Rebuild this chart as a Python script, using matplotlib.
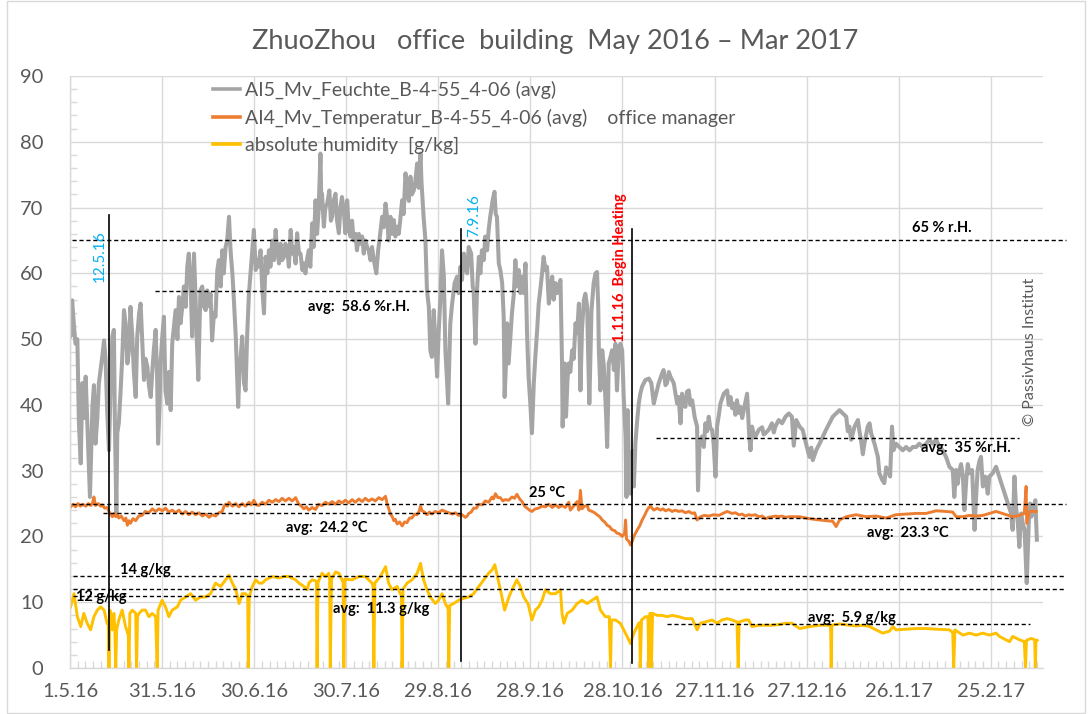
import matplotlib
matplotlib.use("Agg")
import matplotlib.pyplot as plt
from matplotlib.patches import Rectangle
from matplotlib.ticker import MultipleLocator, FixedLocator, FixedFormatter

# ---------------- data (days since 1.5.16) ----------------
tick_days = [0, 30, 60, 90, 120, 150, 180, 210, 240, 270, 300]
tick_labels = ["1.5.16", "31.5.16", "30.6.16", "30.7.16", "29.8.16", "28.9.16",
               "28.10.16", "27.11.16", "27.12.16", "26.1.17", "25.2.17"]

rh_day = [0.0, 0.2, 0.7, 1.3, 1.8, 2.4, 2.9, 3.5, 4.0, 4.5, 5.1, 5.8, 6.5, 7.3, 7.8, 8.3, 8.9, 9.4,
          10.5, 11.1, 11.6, 12.1, 12.7, 13.2, 13.8, 14.3, 14.6, 15.1, 15.4, 15.9, 16.5, 17.0, 17.6,
          18.1, 18.7, 19.2, 19.7, 20.3, 20.8, 21.4, 21.9, 22.5, 23.0, 23.5, 24.1, 24.6, 25.2, 25.7,
          26.3, 26.8, 27.3, 27.9, 28.4, 28.7, 29.2, 29.5, 30.0, 30.6, 31.1, 31.7, 32.2, 32.8, 33.3,
          33.9, 34.4, 35.0, 35.5, 36.0, 36.6, 37.1, 37.7, 38.2, 38.7, 39.3, 39.8, 40.4, 40.9, 41.3,
          41.8, 42.2, 42.5, 43.1, 43.6, 44.2, 44.7, 45.3, 45.8, 46.3, 46.9, 47.4, 48.0, 48.5, 49.1,
          49.6, 50.1, 50.7, 51.2, 51.8, 52.3, 52.9, 53.4, 54.0, 54.5, 54.8, 55.2, 55.6, 56.1, 56.7,
          57.2, 57.7, 58.3, 58.8, 59.1, 59.9, 60.5, 61.0, 61.3, 62.1, 62.6, 63.2, 63.7, 64.3, 64.8,
          65.3, 65.9, 66.4, 67.0, 67.5, 68.1, 68.6, 69.1, 69.7, 70.2, 70.8, 71.3, 71.9, 72.4, 72.9,
          73.5, 74.0, 74.6, 75.1, 75.7, 76.2, 76.7, 77.2, 77.8, 78.3, 78.9, 79.4, 80.0, 80.5, 81.0,
          81.6, 81.9, 82.1, 82.7, 83.2, 83.8, 84.5, 85.0, 85.4, 85.9, 86.5, 87.0, 87.6, 88.1, 88.6,
          89.2, 89.7, 90.3, 90.8, 91.4, 91.9, 92.4, 93.0, 93.5, 94.1, 94.6, 95.2, 95.7, 96.2, 96.8,
          97.3, 97.9, 98.4, 99.0, 99.8, 100.4, 100.8, 101.7, 102.2, 102.8, 103.3, 103.8, 104.4,
          104.9, 105.5, 106.0, 106.6, 107.1, 107.6, 108.2, 108.7, 109.3, 109.8, 110.4, 110.9, 111.4,
          112.0, 112.5, 113.1, 113.6, 114.2, 114.5, 114.9, 115.2, 115.8, 116.3, 116.9, 117.4, 117.9,
          118.5, 119.0, 119.6, 120.1, 120.7, 121.2, 121.8, 122.3, 122.8, 123.2, 123.6, 123.9, 124.5,
          125.3, 126.1, 126.6, 127.2, 127.7, 128.3, 128.8, 129.4, 129.9, 130.7, 131.2, 131.5, 132.1,
          132.6, 133.2, 133.7, 134.2, 134.8, 135.3, 135.9, 136.4, 136.9, 137.7, 138.3, 138.7, 139.1,
          139.7, 140.2, 140.8, 141.3, 141.6, 142.1, 142.4, 142.9, 143.5, 144.0, 144.6, 145.1, 145.6,
          146.2, 146.7, 147.3, 147.8, 148.4, 148.9, 149.4, 150.0, 150.5, 151.1, 151.6, 152.2, 152.7,
          153.2, 153.8, 154.3, 154.9, 155.4, 156.0, 156.5, 157.1, 157.6, 158.2, 158.7, 159.2, 159.8,
          160.3, 160.5, 160.9, 161.2, 161.6, 162.1, 162.5, 163.0, 163.6, 164.1, 164.7, 165.2, 165.8,
          166.3, 166.8, 167.4, 167.9, 168.5, 168.8, 169.2, 169.6, 169.9, 170.6, 171.2, 171.7, 172.1,
          172.3, 172.8, 173.4, 173.9, 174.2, 174.7, 175.0, 175.3, 175.5, 176.1, 176.6, 177.2, 177.7,
          178.2, 178.8, 179.3, 179.9, 180.4, 181.0, 181.3, 181.7, 182.0, 182.6, 182.9, 183.3, 183.7,
          184.2, 184.8, 185.3, 185.8, 186.4, 187.5, 188.6, 189.4, 190.2, 190.7, 191.8, 192.9, 193.4,
          194.0, 194.5, 195.1, 195.6, 196.7, 197.8, 198.3, 198.9, 199.4, 200.0, 200.5, 201.0, 201.6,
          202.1, 202.7, 203.5, 204.3, 204.6, 205.1, 205.9, 206.5, 207.0, 207.6, 208.1, 208.6, 209.2,
          209.7, 210.3, 210.8, 211.4, 211.9, 213.0, 214.1, 214.6, 215.2, 215.7, 216.2, 216.8, 217.3,
          217.9, 218.4, 219.0, 219.5, 220.6, 221.3, 221.7, 222.2, 222.8, 223.3, 224.4, 225.5, 226.0,
          226.6, 227.6, 228.7, 229.3, 229.8, 230.9, 232.0, 233.1, 234.2, 235.2, 235.8, 236.6, 237.7,
          238.7, 239.8, 240.9, 241.5, 242.0, 243.1, 244.2, 245.3, 246.3, 247.4, 248.5, 249.6, 250.7,
          251.8, 252.9, 253.4, 253.9, 254.5, 255.6, 256.7, 257.2, 257.7, 258.3, 258.8, 259.9, 260.5,
          261.0, 262.1, 263.2, 263.7, 264.6, 265.3, 265.9, 266.4, 267.2, 267.8, 268.3, 269.1, 270.2,
          271.3, 272.4, 273.5, 274.6, 275.7, 276.7, 277.8, 278.9, 280.0, 281.1, 282.2, 283.3, 284.3,
          285.4, 286.5, 287.6, 288.1, 288.7, 289.2, 289.8, 290.3, 290.9, 291.4, 292.0, 292.5, 293.0,
          293.9, 294.7, 295.2, 295.7, 296.3, 296.8, 297.4, 298.2, 299.0, 299.5, 300.6, 301.7, 306.6,
          307.1, 307.7, 308.2, 308.8, 309.3, 309.9, 310.4, 311.0, 311.7, 312.4, 312.8, 313.2, 313.7,
          314.5, 315.0]
rh_val = [51.0, 50.4, 55.9, 52.0, 49.3, 50.0, 37.2, 31.1, 43.3, 38.0, 44.3, 35.0, 26.0, 39.7, 43.0, 34.1, 38.0, 43.3,
          47.3, 49.8, 46.8, 39.2, 33.1, 42.0, 50.4, 51.4, 38.0, 23.5, 35.7, 37.2, 42.2, 47.0, 54.4,
          52.4, 46.3, 48.3, 54.9, 50.4, 45.0, 41.2, 50.4, 53.9, 55.4, 50.0, 43.8, 47.0, 45.8, 43.0,
          41.2, 45.0, 48.3, 51.4, 44.0, 34.1, 40.0, 46.3, 50.0, 53.4, 42.2, 40.2, 45.0, 39.2, 49.3,
          52.0, 54.4, 50.0, 56.4, 52.4, 55.0, 58.0, 54.9, 61.0, 63.0, 58.5, 50.4, 63.0, 56.4, 50.0,
          43.8, 52.0, 57.4, 58.0, 55.0, 54.4, 57.4, 55.0, 56.9, 49.8, 54.0, 53.4, 60.5, 62.0, 58.0,
          63.5, 60.0, 64.0, 65.0, 68.6, 63.5, 60.0, 55.9, 50.4, 44.0, 39.7, 45.0, 47.3, 50.4, 43.3,
          42.2, 50.4, 56.9, 60.0, 62.0, 66.6, 60.5, 62.0, 61.0, 63.5, 58.0, 53.9, 62.5, 60.0, 63.5,
          61.0, 65.0, 62.0, 66.6, 63.5, 61.5, 64.5, 62.0, 62.5, 64.5, 63.5, 61.0, 66.6, 63.0, 64.0,
          61.5, 66.1, 63.0, 63.0, 60.5, 61.5, 60.0, 62.0, 63.5, 61.0, 67.6, 64.0, 71.1, 66.0, 69.6,
          78.2, 70.0, 72.1, 67.1, 70.0, 70.6, 72.6, 68.0, 68.6, 71.0, 72.1, 68.0, 66.1, 70.0, 71.6,
          69.6, 66.1, 71.1, 67.0, 65.6, 68.0, 65.0, 66.0, 63.5, 66.0, 64.5, 65.6, 63.0, 65.0, 64.0,
          63.5, 62.0, 64.0, 62.0, 60.0, 63.5, 65.0, 68.6, 67.0, 70.6, 68.6, 65.0, 68.6,
          66.0, 68.1, 65.6, 67.1, 66.0, 68.1, 71.1, 69.0, 75.2, 72.6, 71.0, 74.7, 72.0,
          72.6, 74.0, 76.7, 73.0, 78.2, 74.0, 71.0, 68.6, 65.0, 57.4, 54.9, 48.3, 47.3,
          54.4, 50.0, 44.3, 50.9, 56.4, 63.5, 59.5, 48.3, 44.0, 40.2, 47.0, 52.4, 55.4,
          58.5, 59.5, 57.0, 61.0, 59.0, 63.0, 61.0, 60.0, 64.0, 63.0, 58.0, 57.4, 49.3,
          57.4, 62.5, 60.0, 63.5, 62.0, 65.6, 63.5, 66.6, 68.6, 71.1, 72.4, 69.0, 68.6,
          61.5, 60.5, 58.5, 53.4, 41.2, 47.0, 52.4, 46.3, 50.4, 54.0, 56.9, 62.0, 58.0,
          60.5, 57.0, 59.5, 57.0, 61.5, 50.9, 44.3, 40.0, 35.7, 43.3, 47.3, 51.4, 55.4,
          57.4, 60.0, 62.5, 60.5, 61.0, 55.4, 57.4, 59.5, 56.0, 58.5, 57.0, 58.0, 59.0,
          46.3, 36.7, 44.0, 46.3, 38.2, 44.0, 46.3, 45.0, 48.3, 47.0, 52.4, 50.9, 55.4,
          42.2, 51.4, 55.9, 56.9, 54.9, 48.0, 40.2, 48.0, 54.4, 58.5, 60.0, 60.2, 55.0,
          48.3, 42.2, 48.3, 46.0, 43.3, 38.0, 33.6, 40.0, 46.3, 47.3, 48.3, 45.3, 49.3,
          42.2, 48.3, 49.3, 48.3, 41.2, 35.2, 26.0, 39.2, 33.1, 26.5, 31.0, 33.0, 27.6,
          34.1, 37.7, 40.2, 41.7, 42.8, 43.8, 44.0, 43.3, 40.2, 41.2, 43.3, 44.8, 45.3,
          43.0, 43.3, 45.0, 44.3, 43.3, 40.2, 41.2, 37.2, 41.7, 40.0, 39.7, 42.0, 42.2,
          40.0, 40.7, 38.2, 36.7, 27.0, 34.1, 35.2, 33.6, 37.2, 36.0, 38.2, 36.5, 36.2,
          34.0, 29.1, 36.7, 38.5, 40.2, 41.7, 42.2, 40.0, 41.2, 39.5, 40.2, 38.5, 40.7,
          38.8, 39.7, 38.0, 39.2, 41.7, 35.2, 33.1, 36.7, 35.5, 35.2, 36.2, 36.6, 35.5,
          35.7, 36.2, 37.2, 35.8, 36.7, 37.7, 37.2, 38.2, 38.7, 38.2, 33.8, 37.7, 36.7,
          36.2, 34.1, 32.1, 33.5, 31.6, 33.1, 34.1, 35.2, 36.2, 37.2, 38.2, 38.7, 39.2,
          38.7, 38.2, 36.0, 36.7, 34.7, 36.7, 37.7, 36.0, 34.7, 32.5, 34.1, 36.7, 37.2,
          35.7, 34.1, 32.1, 29.6, 28.6, 28.1, 30.5, 30.1, 29.1, 36.7, 33.1, 34.1, 33.6,
          33.1, 33.6, 33.1, 33.6, 33.6, 34.1, 33.6, 34.1, 34.7, 34.1, 34.7, 33.6, 33.1,
          32.1, 30.6, 30.1, 26.0, 30.1, 28.0, 30.1, 31.0, 29.1, 24.0, 28.6, 31.0, 29.6,
          30.1, 21.0, 26.0, 30.1, 31.5, 32.1, 27.6, 29.1, 26.5, 29.1, 29.6, 30.6, 23.5,
          21.0, 29.1, 24.5, 22.0, 18.4, 23.5, 22.0, 21.0, 12.9, 22.5, 25.0, 23.0, 24.0,
          25.5, 19.5]

temp_day = [0.2, 1.0, 1.8, 2.6, 3.4, 4.2, 5.1, 6.0, 6.8, 7.3, 7.8, 8.3, 9.2, 10.0, 10.5, 11.3,
            12.1, 12.9, 13.8, 14.3, 14.9, 15.4, 15.9, 16.7, 17.6, 18.2, 18.7, 19.2, 19.7, 20.5,
            21.4, 22.4, 23.5, 24.5, 25.7, 26.8, 27.9, 29.0, 30.1, 31.1, 32.2, 33.3, 34.4, 35.5,
            36.6, 37.7, 38.7, 39.8, 40.9, 42.0, 43.1, 44.2, 45.3, 46.3, 47.4, 48.5, 49.6, 50.2,
            50.7, 51.3, 51.8, 52.9, 54.0, 55.0, 56.1, 57.2, 58.3, 59.1, 59.9, 60.7, 61.5, 62.6,
            63.7, 64.8, 65.9, 67.0, 68.1, 69.1, 70.2, 71.3, 72.4, 73.5, 74.1, 74.6, 75.4, 76.2,
            77.0, 77.8, 78.9, 80.0, 81.0, 82.1, 83.2, 84.3, 85.4, 86.5, 87.6, 88.6, 89.7, 90.8,
            91.9, 93.0, 94.1, 95.2, 96.2, 97.3, 98.4, 99.5, 100.6, 101.7, 102.8, 103.3, 104.0,
            104.4, 105.0, 105.5, 106.0, 106.6, 107.4, 108.2, 109.0, 109.8, 110.6, 111.4, 112.3,
            113.1, 113.7, 114.2, 114.7, 115.5, 116.3, 117.1, 117.9, 119.0, 120.1, 121.2, 122.3,
            123.4, 124.5, 125.6, 126.6, 127.7, 128.8, 129.4, 129.9, 130.7, 131.5, 132.4, 133.2,
            134.3, 135.3, 136.4, 137.5, 138.0, 138.6, 139.4, 140.2, 141.0, 141.8, 142.9, 144.0,
            144.8, 145.6, 146.5, 147.3, 148.1, 148.9, 149.7, 150.5, 151.6, 152.7, 153.8, 154.9,
            156.0, 157.1, 158.2, 159.2, 160.3, 161.4, 162.5, 163.0, 164.1, 165.2, 165.8, 166.3,
            166.8, 167.6, 168.5, 169.0, 170.1, 170.9, 171.7, 172.6, 173.4, 174.2, 175.0, 175.8,
            176.6, 177.4, 178.2, 179.0, 179.9, 180.7, 181.0, 181.3, 182.0, 182.6, 183.2, 183.7,
            184.8, 185.6, 186.4, 187.2, 188.0, 188.6, 189.1, 190.2, 191.3, 192.4, 193.2, 194.0,
            195.1, 196.2, 197.2, 198.3, 199.4, 200.5, 201.6, 202.7, 203.5, 204.3, 205.4, 206.7,
            208.1, 209.7, 211.4, 212.7, 214.1, 215.7, 216.8, 217.9, 219.0, 220.0, 221.1, 222.2,
            223.3, 224.4, 225.5, 226.6, 227.6, 228.7, 229.8, 230.9, 232.0, 233.1, 234.4, 237.7,
            240.9, 244.2, 246.3, 248.5, 249.6, 250.7, 252.9, 256.1, 259.4, 262.6, 265.9, 269.1,
            272.4, 275.7, 278.9, 282.2, 285.4, 287.6, 288.7, 290.9, 293.0, 295.2, 297.4, 299.5,
            301.7, 307.1, 309.3, 310.9, 311.5, 311.7, 312.6, 314.8]
temp_val = [24.5, 24.9, 24.5, 25.0, 24.6, 24.9, 24.6, 25.0, 24.7, 25.0, 26.0, 24.7, 25.0, 24.6, 24.8, 24.3,
            24.4, 23.6, 23.0, 23.5, 23.0, 23.4, 22.8, 23.1, 22.4, 22.8, 21.7, 22.4, 22.0, 22.7,
            22.4, 23.1, 23.2, 23.8, 23.6, 24.2, 23.8, 24.2, 23.9, 24.3, 23.7, 24.0, 23.6, 24.0,
            23.4, 23.8, 23.3, 23.7, 23.3, 23.6, 23.1, 23.4, 22.9, 23.3, 23.1, 23.6, 23.8, 24.6,
            24.9, 24.6, 25.2, 24.6, 25.0, 24.5, 25.0, 24.6, 25.2, 24.8, 25.5, 24.8, 24.7, 25.2,
            24.9, 25.5, 25.2, 25.6, 25.3, 25.8, 25.4, 25.8, 25.4, 25.9, 25.3, 24.9, 24.6, 24.2,
            24.5, 24.0, 24.4, 24.1, 24.9, 24.7, 25.2, 24.9, 25.3, 24.9, 25.4, 25.1, 25.5, 25.1,
            25.6, 25.2, 25.7, 25.3, 25.8, 25.4, 25.7, 25.4, 25.9, 25.6, 26.1, 25.0, 24.0,
            23.4, 23.0, 22.4, 22.6, 21.9, 22.2, 21.6, 22.2, 22.1, 22.8, 22.8, 23.4,
            23.3, 23.8, 24.6, 23.9, 23.7, 23.3, 23.7, 23.4, 23.8, 23.6, 24.0, 23.8,
            23.6, 23.4, 23.6, 23.2, 23.3, 22.9, 23.1, 23.5, 23.7, 24.3, 24.3, 24.9,
            24.8, 25.4, 25.2, 26.0, 25.7, 26.5, 25.9, 25.9, 25.4, 25.6, 25.5, 26.0,
            25.8, 26.4, 25.7, 25.3, 24.6, 24.3, 24.0, 23.8, 24.2, 24.3, 24.6, 24.5,
            24.9, 24.4, 24.8, 24.4, 24.7, 24.4, 25.2, 24.0, 24.6, 25.3, 24.0, 27.0,
            24.2, 24.6, 24.7, 24.0, 23.8, 23.6, 23.3, 23.0, 22.5, 22.2, 21.7, 21.5,
            21.0, 20.9, 20.5, 20.4, 20.0, 20.5, 22.5, 19.6, 19.3, 18.7, 19.3, 20.0,
            21.0, 21.6, 22.5, 23.2, 24.0, 24.4, 24.6, 24.0, 24.3, 24.0, 24.2, 23.9,
            24.1, 23.8, 24.0, 23.8, 23.9, 23.6, 23.8, 23.5, 23.6, 22.5, 23.0, 23.2,
            23.1, 23.3, 23.2, 23.5, 23.8, 23.5, 23.6, 23.3, 23.4, 23.1, 23.3, 23.2,
            23.3, 23.0, 23.1, 22.7, 22.9, 23.0, 23.1, 23.0, 23.1, 22.9, 23.0, 23.0,
            22.7, 22.5, 22.4, 22.3, 21.5, 22.5, 23.0, 23.3, 23.0, 23.1, 22.8, 23.3,
            23.4, 23.5, 23.5, 23.9, 23.8, 23.7, 23.0, 23.0, 23.2, 23.1, 23.2, 23.5,
            23.8, 23.0, 23.2, 23.5, 27.6, 22.0, 23.8, 23.8]

ah_day = [0.2, 1.3, 2.4, 3.5, 4.5, 5.6, 6.7, 7.8, 8.9, 10.0, 11.1, 12.1, 12.5, 12.7, 13.0, 13.8,
          14.3, 14.6, 14.9, 15.2, 15.9, 17.0, 18.1, 19.0, 19.2, 19.5, 20.3, 21.4, 21.7, 22.0, 22.5,
          23.5, 24.6, 25.7, 26.8, 27.9, 28.4, 28.7, 30.0, 31.1, 32.2, 33.3, 35.0, 36.0, 37.7, 39.3,
          40.9, 42.5, 44.2, 45.8, 47.4, 49.1, 50.7, 51.8, 52.9, 54.0, 55.1, 56.1, 57.2, 57.9, 58.1,
          58.4, 59.4, 60.5, 61.6, 62.6, 63.7, 65.9, 68.1, 69.7, 71.3, 73.5, 74.6, 76.2, 77.3, 77.8,
          78.9, 80.3, 80.5, 80.8, 82.1, 83.2, 84.3, 84.6, 84.8, 85.2, 86.5, 87.6, 88.6, 89.0, 89.2,
          89.5, 91.9, 94.1, 96.2, 98.4, 98.7, 99.0, 99.3, 101.1, 102.8, 103.8, 104.9, 106.6, 107.6,
          108.0, 108.2, 108.5, 109.8, 111.4, 113.1, 114.2, 115.2, 116.3, 117.4, 119.0, 120.1, 121.2,
          122.3, 123.2, 123.4, 123.7, 125.0, 126.6, 128.3, 129.9, 131.5, 133.2, 134.8, 136.4, 137.5,
          138.4, 139.5, 140.5, 141.6, 143.0, 144.0, 145.6, 146.7, 147.8, 149.2, 150.5, 151.6, 152.7,
          153.8, 154.9, 156.5, 158.2, 159.8, 160.3, 160.9, 162.0, 163.6, 165.2, 166.8, 168.5, 170.1,
          171.7, 172.8, 174.4, 175.7, 176.1, 176.4, 177.7, 179.3, 180.4, 181.5, 182.6, 183.7, 185.3,
          185.6, 185.8, 186.2, 187.5, 188.3, 188.6, 188.9, 189.2, 189.4, 189.8, 191.3, 192.9, 194.5,
          196.2, 198.3, 200.5, 202.7, 204.3, 205.4, 207.0, 209.2, 210.8, 212.4, 214.1, 215.7, 217.3,
          217.7, 218.0, 220.0, 221.1, 222.2, 224.4, 226.6, 228.7, 230.9, 233.1, 235.2, 237.7, 240.9,
          244.2, 246.3, 247.8, 248.0, 248.2, 250.7, 253.9, 256.1, 258.3, 260.5, 262.6, 264.8, 267.0,
          268.1, 269.1, 272.4, 275.7, 278.9, 282.2, 286.5, 287.6, 287.9, 288.3, 290.9, 293.0, 295.2,
          297.4, 299.5, 301.7, 302.8, 306.1, 307.1, 309.3, 310.9, 311.3, 311.6, 313.1, 314.3, 314.5,
          314.7, 315.1]
ah_val = [9.3, 11.3, 7.8, 6.3, 8.3, 6.8, 5.8, 7.8, 8.8, 9.3, 8.8, 6.8, 6.5, 0.0, 8.8, 5.8,
          8.3, 6.0, 0.0, 5.8, 7.3, 8.8, 6.3, 5.0, 0.0, 8.3, 8.8, 8.3, 0.0, 7.8, 8.3,
          8.8, 8.8, 7.8, 8.3, 7.8, 0.0, 8.8, 10.3, 9.3, 7.8, 8.8, 9.3, 10.3, 10.8, 11.3,
          10.3, 10.8, 10.8, 11.3, 12.9, 12.4, 13.4, 14.1, 12.9, 11.9, 9.8, 11.3, 11.3, 10.8, 0.0,
          10.8, 12.4, 13.4, 12.9, 12.9, 13.4, 13.9, 13.7, 13.9, 13.9, 13.4, 12.9, 12.4, 11.9, 12.9,
          13.4, 13.2, 0.0, 13.0, 14.4, 13.9, 14.4, 13.5, 0.0, 13.5, 14.6, 14.4, 13.4, 13.0, 0.0,
          13.5, 13.4, 13.9, 13.9, 12.9, 12.5, 0.0, 12.9, 13.9, 15.4, 12.9, 11.9, 12.4, 11.3,
          11.0, 0.0, 12.0, 12.9, 13.4, 14.4, 15.9, 13.4, 11.9, 10.8, 9.8, 10.3, 11.3,
          9.8, 9.0, 0.0, 9.5, 9.8, 10.3, 10.6, 10.8, 11.3, 12.4, 13.4, 14.4, 14.9,
          15.7, 13.4, 11.3, 8.8, 10.8, 11.9, 13.4, 12.4, 10.8, 9.8, 7.3, 8.8, 9.3,
          10.3, 11.9, 11.3, 11.3, 11.9, 8.3, 6.8, 8.3, 8.8, 9.8, 10.3, 9.8, 10.3,
          10.8, 8.8, 7.8, 7.8, 0.0, 7.3, 7.3, 6.8, 5.8, 4.8, 3.7, 5.3, 6.8,
          6.9, 0.0, 7.3, 7.8, 7.8, 0.0, 8.3, 8.3, 0.0, 8.3, 8.0, 8.0, 7.8,
          8.0, 7.8, 7.5, 7.5, 5.8, 6.8, 7.0, 7.3, 6.8, 7.3, 7.5, 7.3, 7.0,
          0.0, 7.0, 7.3, 7.3, 6.3, 6.5, 6.5, 6.5, 6.6, 6.8, 6.8, 6.0, 6.3,
          6.5, 6.5, 6.5, 0.0, 6.5, 6.7, 6.5, 6.4, 6.5, 6.3, 5.8, 5.3, 5.6,
          6.3, 5.8, 5.9, 6.0, 6.0, 5.9, 5.8, 5.4, 0.0, 5.8, 5.0, 5.3, 5.0,
          5.3, 5.0, 5.3, 4.8, 4.0, 4.8, 4.3, 4.0, 0.0, 4.2, 4.5, 4.3, 0.0,
          4.0, 4.2]

# ---------------- styling ----------------
GRAY = "#A5A5A5"
ORANGE = "#ED7D31"
YELLOW = "#FFC000"
TXT = "#595959"
GRID = "#D9D9D9"
FONT = "Lato"

plt.rcParams["font.family"] = [FONT, "DejaVu Sans"]

W, H = 1092, 714
fig = plt.figure(figsize=(W / 100, H / 100), dpi=100)
ax = fig.add_axes([70 / W, (H - 668) / H, (1043 - 70) / W, (668 - 76) / H])

ax.plot(rh_day, rh_val, color=GRAY, lw=2.9, solid_joinstyle="round",
        label="AI5_Mv_Feuchte_B-4-55_4-06 (avg)")
ax.plot(temp_day, temp_val, color=ORANGE, lw=2.1,
        label="AI4_Mv_Temperatur_B-4-55_4-06 (avg)    office manager")
ax.plot(ah_day, ah_val, color=YELLOW, lw=2.1,
        label="absolute humidity  [g/kg]")

ax.set_xlim(0, 317)
ax.set_ylim(0, 90)

ax.xaxis.set_major_locator(FixedLocator(tick_days))
ax.xaxis.set_major_formatter(FixedFormatter(tick_labels))
ax.xaxis.set_minor_locator(MultipleLocator(2.5))
ax.yaxis.set_major_locator(MultipleLocator(10))
ax.yaxis.set_minor_locator(MultipleLocator(2))
ax.grid(True, which="major", color=GRID, lw=1.0)
ax.set_axisbelow(True)
ax.tick_params(axis="both", which="major", length=0, labelsize=14.5, labelcolor=TXT)
ax.tick_params(axis="x", which="major", pad=11)
ax.tick_params(axis="y", which="major", pad=19)
ax.tick_params(axis="both", which="minor", direction="in", length=5, color=GRID, width=1)
for s in ["top", "right"]:
    ax.spines[s].set_visible(False)
for s in ["left", "bottom"]:
    ax.spines[s].set_color(GRID)
    ax.spines[s].set_linewidth(1.0)

# ---------------- annotation lines ----------------
dash = (0, (3, 2))
hlines = [  # (y, x0, x1)
    (65.0, 0.8, 324.6),
    (25.0, 0.5, 324.6),
    (14.0, 1.0, 324.6),
    (12.0, 1.0, 324.6),
    (57.3, 27.6, 146.0),
    (23.5, 10.7, 127.3),
    (10.9, 1.0, 131.0),
    (35.0, 191.0, 309.3),
    (22.85, 189.1, 307.0),
    (6.7, 194.5, 312.8),
]
for y, x0, x1 in hlines:
    ax.plot([x0, x1], [y, y], color="black", lw=1.0, ls=dash, clip_on=False, zorder=5)

vlines = [(12.6, 2.7, 68.8), (127.5, 1.0, 66.8), (183.2, 0.7, 66.7)]
for x, y0, y1 in vlines:
    ax.plot([x, x], [y0, y1], color="black", lw=1.2, zorder=5)

# ---------------- annotation texts ----------------
bold = dict(fontsize=10.5, fontweight="bold", color="black", zorder=6)
ax.text(283.9, 66.9, "65 % r.H.", ha="center", va="center", **bold)
ax.text(77.5, 54.9, "avg:  58.6 %r.H.", ha="left", va="center", **bold)
ax.text(149.7, 26.6, "25 °C", ha="left", va="center", **bold)
ax.text(70.5, 21.3, "avg:  24.2 °C", ha="left", va="center", **bold)
ax.text(16.2, 14.9, "14 g/kg", ha="left", va="center", **bold)
ax.text(1.8, 10.8, "12 g/kg", ha="left", va="center", **bold)
ax.text(85.8, 9.0, "avg:  11.3 g/kg", ha="left", va="center", **bold)
ax.text(277.4, 33.4, "avg:  35 %r.H.", ha="left", va="center", **bold)
ax.text(259.8, 20.5, "avg:  23.3 °C", ha="left", va="center", **bold)
ax.text(240.6, 7.6, "avg:  5.9 g/kg", ha="left", va="center", **bold)

ax.text(9.6, 62.6, "12.5.16", rotation=90, ha="center", va="center",
        fontsize=11, color="#00B0F0", zorder=6)
ax.text(131.8, 68.7, "7.9.16", rotation=90, ha="center", va="center",
        fontsize=11, color="#00B0F0", zorder=6)
ax.text(179.3, 60.8, "1.11.16  Begin Heating", rotation=90, ha="center", va="center",
        fontsize=10.5, fontweight="bold", color="#FF0000", zorder=6)
ax.text(312.8, 48.1, "© Passivhaus Institut", rotation=90, ha="center", va="center",
        fontsize=11.5, color=TXT, zorder=6)

# ---------------- legend & title ----------------
leg = ax.legend(loc="upper left", bbox_to_anchor=(213 / W, 1 - 81 / H),
                bbox_transform=fig.transFigure, frameon=False, fontsize=14,
                handlelength=1.4, handletextpad=0.25, labelspacing=0.5,
                borderpad=0, borderaxespad=0)
for t in leg.get_texts():
    t.set_color(TXT)
for l in leg.get_lines():
    l.set_linewidth(2.6)

fig.text(555 / W, 1 - 42 / H, "ZhuoZhou   office  building  May 2016 \u2013 Mar 2017",
         ha="center", va="center", fontsize=19.5, color=TXT)

fig.patches.append(Rectangle((7 / W, 0.002), (1085 - 7) / W, 0.996,
                             transform=fig.transFigure, fill=False,
                             edgecolor=GRID, lw=1.0))

fig.savefig("out.png", dpi=100)
